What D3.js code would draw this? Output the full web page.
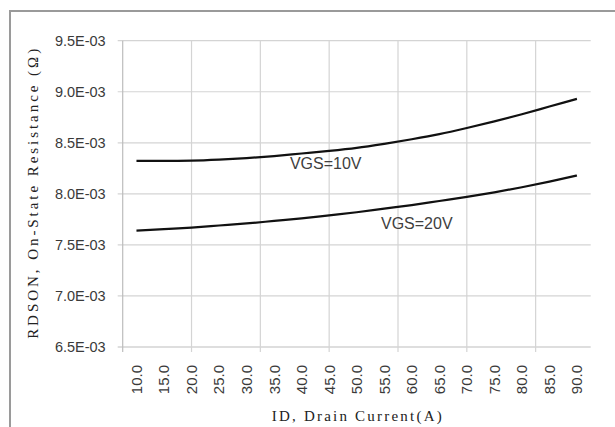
<!DOCTYPE html>
<html>
<head>
	<title>RDSON vs ID</title>
	<script type="text/javascript" src="https://cdn.jsdelivr.net/npm/d3@7"></script>
	<style type="text/css">
		body { margin: 0; background: white; }
		.tick-label { font-family: "Liberation Sans", Arial, sans-serif; fill: #3a3a3a; }
		.axis-title { font-family: "Liberation Serif", "DejaVu Serif", serif; fill: #222; }
	</style>
</head>
<body>

	<svg width=615 height=427 class="chart"></svg>

	<script type="text/javascript">

		// drain current categories (A)
		categories = ['10.0','15.0','20.0','25.0','30.0','35.0','40.0','45.0','50.0','55.0','60.0','65.0','70.0','75.0','80.0','85.0','90.0']

		// on-state resistance (ohm)
		vgs10 = [8.322e-3, 8.322e-3, 8.325e-3, 8.335e-3, 8.350e-3, 8.370e-3, 8.395e-3, 8.420e-3, 8.450e-3, 8.490e-3, 8.535e-3, 8.585e-3, 8.645e-3, 8.710e-3, 8.780e-3, 8.855e-3, 8.930e-3]
		vgs20 = [7.640e-3, 7.655e-3, 7.670e-3, 7.690e-3, 7.710e-3, 7.735e-3, 7.760e-3, 7.790e-3, 7.820e-3, 7.855e-3, 7.890e-3, 7.930e-3, 7.970e-3, 8.015e-3, 8.065e-3, 8.120e-3, 8.180e-3]

		yTicks = [6.5e-3, 7.0e-3, 7.5e-3, 8.0e-3, 8.5e-3, 9.0e-3, 9.5e-3]
		seriesNames = ['VGS=10V', 'VGS=20V']

		plot = {left: 122.7, right: 590.7, top: 40.7, bottom: 347}
		svg = d3.select('.chart')

		// outer chart border
		svg.append('rect')
			.attr('x', 10).attr('y', 11)
			.attr('width', 640).attr('height', 440)
			.attr('fill', 'white')
			.attr('stroke', '#9a9a9a')
			.attr('stroke-width', 2)

		x = d3.scaleBand()
			.domain(categories)
			.range([plot.left, plot.right])
			.padding(0)

		// vertical gridlines fall every 2.5 categories
		xGrid = d3.scaleLinear()
			.domain([0, categories.length])
			.range([plot.left, plot.right])
		gridIdx = d3.range(0, categories.length, 2.5)

		y = d3.scaleLinear()
			.domain([6.5e-3, 9.5e-3])
			.range([plot.bottom, plot.top])

		g = svg.append('g')

		// horizontal gridlines + y ticks
		g.selectAll('.hgrid')
			.data(yTicks)
			.enter()
			.append('line')
			.attr('x1', plot.left - 5)
			.attr('x2', plot.right)
			.attr('y1', function(d) {return y(d)})
			.attr('y2', function(d) {return y(d)})
			.attr('stroke', function(d) {return d == 6.5e-3 ? '#bdbdbd' : '#d4d4d4'})
			.attr('stroke-width', 1.2)

		// vertical gridlines + x ticks
		g.selectAll('.vgrid')
			.data(gridIdx)
			.enter()
			.append('line')
			.attr('x1', function(d) {return xGrid(d)})
			.attr('x2', function(d) {return xGrid(d)})
			.attr('y1', plot.top)
			.attr('y2', plot.bottom + 5)
			.attr('stroke', function(d) {return d == 0 ? '#bdbdbd' : '#d4d4d4'})
			.attr('stroke-width', 1.2)

		// y tick labels
		g.selectAll('.ylab')
			.data(yTicks)
			.enter()
			.append('text')
			.attr('class', 'tick-label')
			.attr('x', plot.left - 17)
			.attr('y', function(d) {return y(d)})
			.attr('dy', '0.36em')
			.attr('text-anchor', 'end')
			.style('font-size', '14.5px')
			.text(function(d) {return (d * 1000).toFixed(1) + 'E-03'})

		// x tick labels, rotated
		g.selectAll('.xlab')
			.data(categories)
			.enter()
			.append('text')
			.attr('class', 'tick-label')
			.attr('transform', function(d) {
				return 'translate(' + (x(d) + x.bandwidth() / 2) + ',' + (plot.bottom + 18) + ') rotate(-90)'
			})
			.attr('dy', '0.36em')
			.attr('text-anchor', 'end')
			.style('font-size', '15px')
			.text(function(d) {return d})

		// curves
		line = d3.line()
			.x(function(d, i) {return x(categories[i]) + x.bandwidth() / 2})
			.y(function(d) {return y(d)})
			.curve(d3.curveMonotoneX)

		g.selectAll('.series')
			.data([vgs10, vgs20])
			.enter()
			.append('path')
			.attr('d', line)
			.attr('fill', 'none')
			.attr('stroke', '#111')
			.attr('stroke-width', 2.2)

		// series labels placed near the curves
		labelAt = [{i: 6, dx: 2, dy: 15.8}, {i: 10, dx: -17, dy: 24.2}]
		g.selectAll('.slab')
			.data(seriesNames)
			.enter()
			.append('text')
			.attr('class', 'tick-label')
			.attr('x', function(d, k) {return x(categories[labelAt[k].i]) + labelAt[k].dx})
			.attr('y', function(d, k) {return y([vgs10, vgs20][k][labelAt[k].i]) + labelAt[k].dy})
			.style('font-size', '16px')
			.style('fill', '#404040')
			.text(function(d) {return d})

		// axis titles
		svg.append('text')
			.attr('class', 'axis-title')
			.attr('transform', 'translate(38,' + (plot.top + plot.bottom) / 2 + ') rotate(-90)')
			.attr('text-anchor', 'middle')
			.attr('textLength', 290)
			.attr('lengthAdjust', 'spacing')
			.style('font-size', '15px')
			.text('RDSON, On-State Resistance (Ω)')

		svg.append('text')
			.attr('class', 'axis-title')
			.attr('x', (plot.left + plot.right) / 2)
			.attr('y', 421)
			.attr('text-anchor', 'middle')
			.attr('textLength', 170)
			.attr('lengthAdjust', 'spacing')
			.style('font-size', '15px')
			.text('ID, Drain Current(A)')

	</script>

</body>
</html>
